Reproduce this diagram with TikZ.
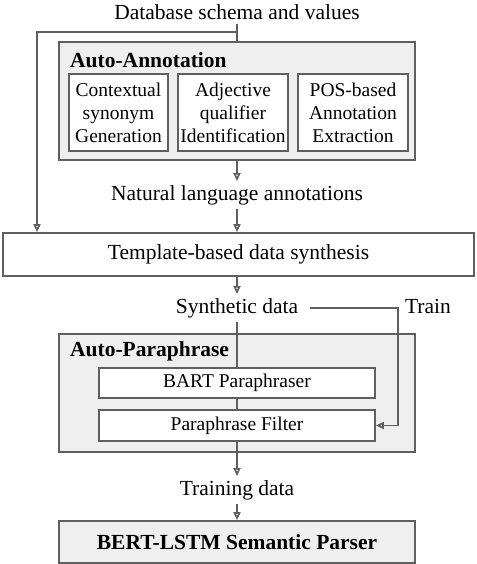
\documentclass[tikz,border=0pt]{standalone}
\usepackage{fontspec}
\setmainfont{Liberation Serif}
\usetikzlibrary{arrows.meta}
\definecolor{linegray}{RGB}{95,95,95}
\definecolor{boxgray}{RGB}{239,239,239}
\begin{document}
\begin{tikzpicture}[x=1pt, y=-1pt,
        every node/.style={font=\fontsize{21.5}{24}\selectfont, inner sep=4pt},
        conn/.style={draw=linegray, line width=1.7pt},
        arr/.style={conn, -{Triangle[open, length=8pt, width=7pt]}},
        group/.style={draw=linegray, line width=1.7pt, fill=boxgray, minimum width=356pt},
        stage/.style={draw=linegray, line width=1.7pt, fill=white},
        sub/.style={stage, align=center, minimum height=77pt, inner sep=1pt,
                font=\fontsize{19.5}{23}\selectfont},
        title/.style={anchor=west, font=\fontsize{21.5}{24}\selectfont\bfseries}]

    \useasboundingbox (0,0) rectangle (476,564);

    \node (db) at (237,12) {Database schema and values};

    \node[group, minimum height=118pt] (annot) at (237,101) {};
    \node[title] (annottitle) at (66,60) {Auto-Annotation};
    \node[sub, minimum width=99pt] (ctx) at (118.5,112.5) {Contextual\\synonym\\Generation};
    \node[sub, minimum width=110pt] (adj) at (233,112.5) {Adjective\\qualifier\\Identification};
    \node[sub, minimum width=110pt] (pos) at (353,112.5) {POS-based\\Annotation\\Extraction};

    \node (nla) at (237,195) {Natural language annotations};

    \node[stage, minimum width=471pt, minimum height=43pt] (tmpl) at (238.5,254.5) {Template-based data synthesis};

    \node (syn) at (237,308) {Synthetic data};
    \node (train) at (428,306) {Train};

    \node[group, minimum height=118pt] (para) at (237,393) {};
    \node[title] (paratitle) at (66,351) {Auto-Paraphrase};
    \node[stage, minimum width=276pt, minimum height=30pt, inner sep=1pt,
        font=\fontsize{19.5}{23}\selectfont] (bart) at (237,383) {BART Paraphraser};
    \node[stage, minimum width=276pt, minimum height=31pt, inner sep=1pt,
        font=\fontsize{19.5}{23}\selectfont] (filter) at (237,425.5) {Paraphrase Filter};

    \node (trd) at (237,490) {Training data};

    \node[group, minimum height=42pt, font=\fontsize{21.5}{24}\selectfont\bfseries] (bert) at (237,542) {BERT-LSTM Semantic Parser};

    \coordinate (split) at (237,32);
    \coordinate (left) at (37,32);
    \coordinate (turn) at (398,308);

    \draw[conn] (db.south) -- (db.south |- annot.north);
    \draw[arr] (split) -- (left) -- (left |- tmpl.north);
    \draw[arr] (annot.south) -- (annot.south |- nla.north);
    \draw[arr] (nla.south) -- (nla.south |- tmpl.north);
    \draw[arr] (syn.north |- tmpl.south) -- (syn.north);
    \draw[conn] (syn.south) -- (syn.south |- bart.north);
    \draw[arr] (syn.east) ++(8,0) -- (turn) |- (filter.east);
    \draw[conn] (bart.south) -- (filter.north);
    \draw[arr] (filter.south) -- (trd.north);
    \draw[arr] (trd.south) -- (trd.south |- bert.north);
\end{tikzpicture}
\end{document}
